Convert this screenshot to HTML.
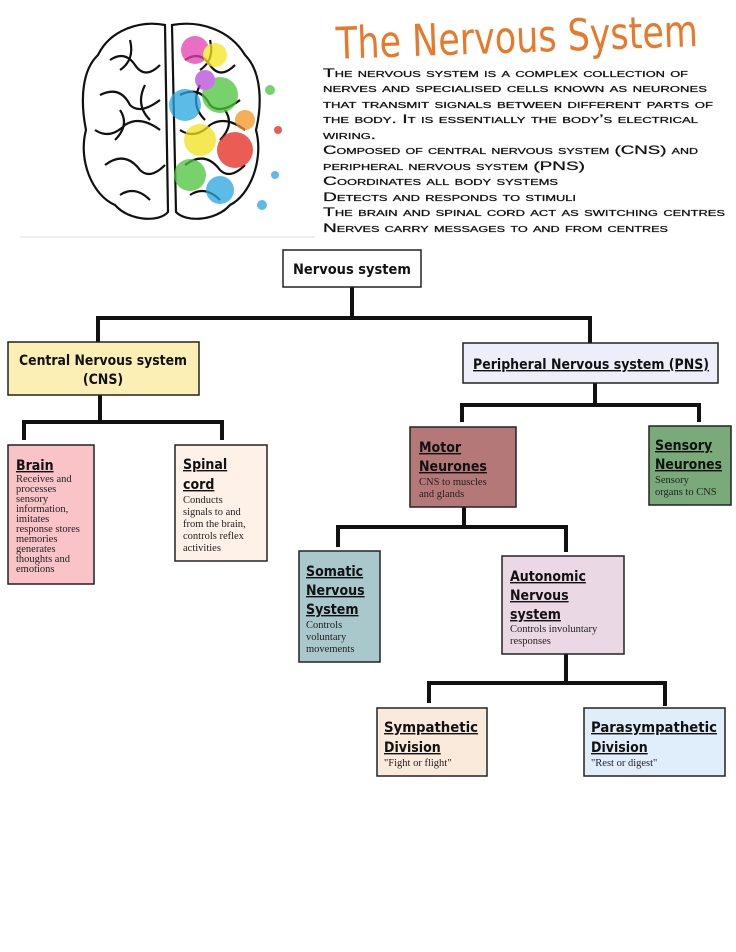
<!DOCTYPE html>
<html><head><meta charset="utf-8"><style>
html,body{margin:0;padding:0;background:#fff;}
svg{display:block}
.h{font-family:"DejaVu Sans Condensed","Liberation Sans Narrow","Liberation Sans",sans-serif;font-weight:bold;fill:#111;text-decoration:underline}
.b{font-family:"Liberation Serif",serif;font-size:10.5px;fill:#222}
.d{font-family:"Liberation Sans",sans-serif;font-size:12px;font-variant:small-caps;fill:#111;stroke:#111;stroke-width:0.25}
</style></head><body>
<svg width="736" height="952" viewBox="0 0 736 952" xmlns="http://www.w3.org/2000/svg">
<!-- brain -->
<g fill="none" stroke="#111" stroke-width="2.2">
<path d="M165 25 C140 20 110 30 98 55 C82 70 80 100 86 130 C78 160 92 195 115 205 C130 222 160 222 168 212 Z"/>
<path d="M172 25 C200 20 230 30 245 55 C262 72 262 105 256 130 C264 160 250 195 230 205 C215 222 185 222 176 212 Z"/>
<path d="M110 60 q15 -10 25 5 q10 15 25 0 M100 95 q20 -10 30 10 q10 10 30 -5 M95 130 q15 10 30 -5 q15 -10 35 5 M105 165 q20 -15 35 5 q10 10 25 -5 M120 195 q15 -10 30 5 M130 40 q5 20 -10 30 M145 85 q-10 20 5 35 M120 110 q10 15 -5 30"/>
<path d="M185 60 q15 -10 25 5 q10 15 25 0 M180 95 q20 -10 30 10 q10 10 30 -5 M180 130 q15 10 30 -5 q15 -10 35 5 M185 165 q20 -15 35 5 q10 10 25 -5 M190 195 q15 -10 30 5 M210 40 q5 20 -10 30 M200 85 q-10 20 5 35 M225 110 q10 15 -5 30"/>
</g>
<g opacity="0.75">
<circle cx="195" cy="50" r="14" fill="#e33fb0"/><circle cx="215" cy="55" r="12" fill="#f5e51e"/>
<circle cx="185" cy="105" r="16" fill="#27a6e0"/><circle cx="220" cy="95" r="18" fill="#4cc43a"/>
<circle cx="200" cy="140" r="16" fill="#f2e21a"/><circle cx="235" cy="150" r="18" fill="#e5261d"/>
<circle cx="190" cy="175" r="16" fill="#4cc43a"/><circle cx="220" cy="190" r="14" fill="#27a6e0"/>
<circle cx="245" cy="120" r="10" fill="#f29324"/><circle cx="205" cy="80" r="10" fill="#b64ad8"/>
<circle cx="270" cy="90" r="5" fill="#4cc43a"/><circle cx="275" cy="175" r="4" fill="#27a6e0"/>
<circle cx="262" cy="205" r="5" fill="#27a6e0"/><circle cx="278" cy="130" r="4" fill="#e5261d"/>
</g>
<line x1="20" y1="237" x2="315" y2="237" stroke="#ddd"/>
<text x="336" y="53" font-family="'DejaVu Sans','Liberation Sans',sans-serif" font-size="44" fill="#e8792a" textLength="362" lengthAdjust="spacingAndGlyphs" transform="rotate(-2 500 40)">The Nervous System</text>
<g class="d">
<text x="323" y="77" textLength="365" lengthAdjust="spacingAndGlyphs">The nervous system is a complex collection of</text>
<text x="323" y="92" textLength="384" lengthAdjust="spacingAndGlyphs">nerves and specialised cells known as neurones</text>
<text x="323" y="108" textLength="390" lengthAdjust="spacingAndGlyphs">that transmit signals between different parts of</text>
<text x="323" y="123" textLength="375" lengthAdjust="spacingAndGlyphs">the body. It is essentially the body’s electrical</text>
<text x="323" y="139" textLength="53" lengthAdjust="spacingAndGlyphs">wiring.</text>
<text x="323" y="154" textLength="375" lengthAdjust="spacingAndGlyphs">Composed of central nervous system (CNS) and</text>
<text x="323" y="170" textLength="262" lengthAdjust="spacingAndGlyphs">peripheral nervous system (PNS)</text>
<text x="323" y="185" textLength="235" lengthAdjust="spacingAndGlyphs">Coordinates all body systems</text>
<text x="323" y="201" textLength="253" lengthAdjust="spacingAndGlyphs">Detects and responds to stimuli</text>
<text x="323" y="216" textLength="402" lengthAdjust="spacingAndGlyphs">The brain and spinal cord act as switching centres</text>
<text x="323" y="232" textLength="345" lengthAdjust="spacingAndGlyphs">Nerves carry messages to and from centres</text>
</g>
<!-- connectors -->
<g fill="none" stroke="#111" stroke-width="4">
<path d="M352 287 V318 M98 343 V318 H590 V343"/>
<path d="M100 395 V422 M24 440 V422 H222 V440"/>
<path d="M595 383 V405 M462 422 V405 H699 V422"/>
<path d="M464 507 V527 M338 547 V527 H566 V552"/>
<path d="M566 654 V683 M429 703 V683 H665 V706"/>
</g>
<!-- boxes -->
<g stroke="#222" stroke-width="1.5">
<rect x="283" y="250" width="138" height="37" fill="#fff"/>
<rect x="8" y="342" width="191" height="53" fill="#fbefb5"/>
<rect x="463" y="343" width="255" height="40" fill="#eeeefa"/>
<rect x="8" y="445" width="86" height="139" fill="#f9c3c8"/>
<rect x="175" y="445" width="92" height="116" fill="#fdf1e8"/>
<rect x="410" y="427" width="106" height="80" fill="#b47878"/>
<rect x="649" y="426" width="82" height="79" fill="#7aaa7a"/>
<rect x="299" y="551" width="81" height="111" fill="#a9c8cc"/>
<rect x="502" y="556" width="122" height="98" fill="#ead9e5"/>
<rect x="377" y="708" width="110" height="68" fill="#f9eadb"/>
<rect x="584" y="708" width="141" height="68" fill="#e0eefb"/>
</g>
<g class="h" font-size="14" style="text-decoration:none">
<text x="352" y="274" text-anchor="middle" textLength="118" lengthAdjust="spacingAndGlyphs">Nervous system</text>
<text x="103" y="365" text-anchor="middle" textLength="168" lengthAdjust="spacingAndGlyphs">Central Nervous system</text>
<text x="103" y="384" text-anchor="middle">(CNS)</text>
</g>
<g class="h" font-size="14">
<text x="473" y="369" textLength="236" lengthAdjust="spacingAndGlyphs">Peripheral Nervous system (PNS)</text>
<text x="16" y="470">Brain</text>
<text x="183" y="469">Spinal</text><text x="183" y="489">cord</text>
<text x="419" y="452">Motor</text><text x="419" y="471">Neurones</text>
<text x="655" y="450">Sensory</text><text x="655" y="469" textLength="67" lengthAdjust="spacingAndGlyphs">Neurones</text>
<text x="306" y="576">Somatic</text><text x="306" y="595">Nervous</text><text x="306" y="614">System</text>
<text x="510" y="581">Autonomic</text><text x="510" y="600">Nervous</text><text x="510" y="619">system</text>
<text x="384" y="732" textLength="94" lengthAdjust="spacingAndGlyphs">Sympathetic</text><text x="384" y="752">Division</text>
<text x="591" y="732" textLength="126" lengthAdjust="spacingAndGlyphs">Parasympathetic</text><text x="591" y="752">Division</text>
</g>
<g class="b">
<text x="16" y="482">Receives and</text><text x="16" y="492">processes</text><text x="16" y="502">sensory</text><text x="16" y="512">information,</text><text x="16" y="522">imitates</text><text x="16" y="532">response stores</text><text x="16" y="542">memories</text><text x="16" y="552">generates</text><text x="16" y="562">thoughts and</text><text x="16" y="572">emotions</text>
<text x="183" y="503">Conducts</text><text x="183" y="515">signals to and</text><text x="183" y="527">from the brain,</text><text x="183" y="539">controls reflex</text><text x="183" y="551">activities</text>
<text x="419" y="485">CNS to muscles</text><text x="419" y="497">and glands</text>
<text x="655" y="483">Sensory</text><text x="655" y="495">organs to CNS</text>
<text x="306" y="628">Controls</text><text x="306" y="640">voluntary</text><text x="306" y="652">movements</text>
<text x="510" y="632">Controls involuntary</text><text x="510" y="644">responses</text>
<text x="384" y="766">"Fight or flight"</text>
<text x="591" y="766">"Rest or digest"</text>
</g>
</svg>
</body></html>
